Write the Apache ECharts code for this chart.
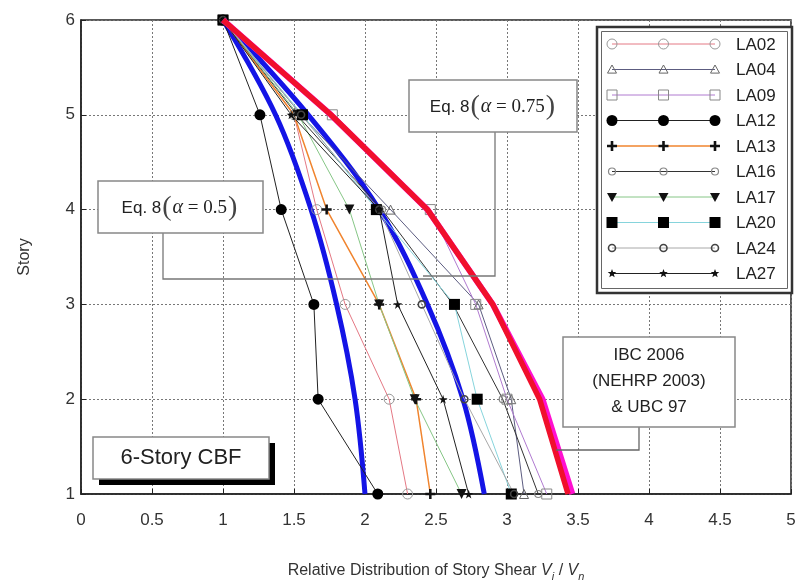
<!DOCTYPE html>
<html>
<head>
<meta charset="utf-8">
<script src="https://cdn.jsdelivr.net/npm/echarts@6/dist/echarts.min.js"></script>
<style>
  html, body { margin: 0; padding: 0; background: #fff; }
  #chart { width: 802px; height: 583px; }
</style>
</head>
<body>
<div id="chart"></div>
<script>
// Story levels, top to bottom
const stories = [6, 5, 4, 3, 2, 1];

// Relative story shear V_i / V_n for each record, per story (6 -> 1)
const LA02 = [1, 1.50, 1.66, 1.86, 2.17, 2.30];
const LA04 = [1, 1.55, 2.18, 2.80, 3.03, 3.12];
const LA09 = [1, 1.77, 2.46, 2.78, 3.00, 3.28];
const LA12 = [1, 1.26, 1.41, 1.64, 1.67, 2.09];
const LA13 = [1, 1.50, 1.73, 2.10, 2.36, 2.46];
const LA16 = [1, 1.52, 2.12, 2.62, 2.97, 3.22];
const LA17 = [1, 1.53, 1.89, 2.10, 2.35, 2.68];
const LA20 = [1, 1.56, 2.08, 2.63, 2.79, 3.03];
const LA24 = [1, 1.55, 2.10, 2.40, 2.70, 3.05];
const LA27 = [1, 1.48, 2.10, 2.23, 2.55, 2.73];

// Code-based distributions
const EQ8_A050 = [1, 1.37, 1.62, 1.80, 1.93, 2.00];
const EQ8_A075 = [1, 1.60, 2.10, 2.44, 2.69, 2.84];
const IBC2006 = [1, 1.76, 2.44, 2.90, 3.23, 3.43];
const UBC97 = [1, 1.76, 2.44, 2.90, 3.25, 3.46];

// Axis ticks
const xTicks = [0, 0.5, 1, 1.5, 2, 2.5, 3, 3.5, 4, 4.5, 5];
const yTicks = [1, 2, 3, 4, 5, 6];

const records = [
  { name: 'LA02', values: LA02 },
  { name: 'LA04', values: LA04 },
  { name: 'LA09', values: LA09 },
  { name: 'LA12', values: LA12 },
  { name: 'LA13', values: LA13 },
  { name: 'LA16', values: LA16 },
  { name: 'LA17', values: LA17 },
  { name: 'LA20', values: LA20 },
  { name: 'LA24', values: LA24 },
  { name: 'LA27', values: LA27 }
];

// Line and marker styling per record
const styles = {
  LA02: { line: '#e47884', lw: 1, shape: 'circle', size: 10, fill: 'rgba(255,255,255,0)', stroke: '#999', bw: 1 },
  LA04: { line: '#5c5c80', lw: 1, shape: 'tri', size: 9, fill: 'rgba(255,255,255,0)', stroke: '#666', bw: 1 },
  LA09: { line: '#b07ad0', lw: 1, shape: 'rect', size: 10, fill: 'rgba(255,255,255,0)', stroke: '#888', bw: 1 },
  LA12: { line: '#222', lw: 1, shape: 'circle', size: 11, fill: '#000', stroke: '#000', bw: 0 },
  LA13: { line: '#f0842e', lw: 1.5, shape: 'plus', size: 10, fill: '#111', stroke: '#111', bw: 0 },
  LA16: { line: '#333', lw: 1, shape: 'circle', size: 7, fill: 'rgba(255,255,255,0)', stroke: '#888', bw: 1.2 },
  LA17: { line: '#86c686', lw: 1, shape: 'triDown', size: 10, fill: '#111', stroke: '#111', bw: 0 },
  LA20: { line: '#86d4dc', lw: 1, shape: 'rect', size: 11, fill: '#000', stroke: '#000', bw: 0 },
  LA24: { line: '#a8a8a8', lw: 1, shape: 'circle', size: 7, fill: 'rgba(255,255,255,0)', stroke: '#444', bw: 1.6 },
  LA27: { line: '#222', lw: 1, shape: 'star', size: 9, fill: '#111', stroke: '#111', bw: 0 }
};

const PLUS_PATH = 'path://M3,0H5V3H8V5H5V8H3V5H0V3H3Z';
const STAR_PATH = 'path://M50,0L61,35L98,35L68,57L79,91L50,70L21,91L32,57L2,35L39,35Z';

function seriesSymbol(shape) {
  switch (shape) {
    case 'circle': return 'circle';
    case 'rect': return 'rect';
    case 'tri': return 'triangle';
    case 'triDown': return 'triangle';
    case 'plus': return PLUS_PATH;
    case 'star': return STAR_PATH;
  }
  return 'circle';
}

function pairs(values) {
  return values.map((v, i) => [v, stories[i]]);
}

const series = [];

// Thick design curves drawn beneath the record lines
series.push({
  name: 'Eq. 8 (alpha = 0.5)', type: 'line', data: pairs(EQ8_A050), smooth: 0.35,
  showSymbol: false, z: 1, lineStyle: { color: '#1414e6', width: 5 }, itemStyle: { color: '#1414e6' }
});
series.push({
  name: 'Eq. 8 (alpha = 0.75)', type: 'line', data: pairs(EQ8_A075), smooth: 0.35,
  showSymbol: false, z: 1, lineStyle: { color: '#1414e6', width: 5 }, itemStyle: { color: '#1414e6' }
});

records.forEach(r => {
  const st = styles[r.name];
  series.push({
    name: r.name, type: 'line', data: pairs(r.values), z: 2,
    symbol: seriesSymbol(st.shape), symbolSize: st.size,
    symbolRotate: st.shape === 'triDown' ? 180 : 0,
    showAllSymbol: true,
    lineStyle: { color: st.line, width: st.lw },
    itemStyle: { color: st.fill, borderColor: st.stroke, borderWidth: st.bw }
  });
});

series.push({
  name: 'UBC 97', type: 'line', data: pairs(UBC97), showSymbol: false, z: 3,
  lineStyle: { color: '#ff10d0', width: 6 }, itemStyle: { color: '#ff10d0' }
});
series.push({
  name: 'IBC 2006', type: 'line', data: pairs(IBC2006), showSymbol: false, z: 4,
  lineStyle: { color: '#f0102c', width: 5.5 }, itemStyle: { color: '#f0102c' }
});

series.forEach(s => { s.emphasis = { disabled: true }; s.silent = true; });

// Legend marker drawn as graphic shapes
function markerEl(st, cx, cy) {
  const s = st.size, h = s / 2;
  const style = { fill: st.fill, stroke: st.bw ? st.stroke : null, lineWidth: st.bw };
  switch (st.shape) {
    case 'circle': return { type: 'circle', shape: { cx, cy, r: h }, style };
    case 'rect': return { type: 'rect', shape: { x: cx - h, y: cy - h, width: s, height: s }, style };
    case 'tri': return { type: 'polygon', shape: { points: [[cx, cy - h], [cx + h, cy + h * 0.8], [cx - h, cy + h * 0.8]] }, style };
    case 'triDown': return { type: 'polygon', shape: { points: [[cx - h, cy - h * 0.8], [cx + h, cy - h * 0.8], [cx, cy + h]] }, style };
    case 'plus': {
      const a = h, b = s * 0.13;
      return { type: 'polygon', shape: { points: [
        [cx - b, cy - a], [cx + b, cy - a], [cx + b, cy - b], [cx + a, cy - b], [cx + a, cy + b], [cx + b, cy + b],
        [cx + b, cy + a], [cx - b, cy + a], [cx - b, cy + b], [cx - a, cy + b], [cx - a, cy - b], [cx - b, cy - b]] }, style };
    }
    case 'star': {
      const pts = [];
      for (let k = 0; k < 10; k++) {
        const ang = -Math.PI / 2 + k * Math.PI / 5;
        const rr = k % 2 === 0 ? h : h * 0.42;
        pts.push([cx + rr * Math.cos(ang), cy + rr * Math.sin(ang)]);
      }
      return { type: 'polygon', shape: { points: pts }, style };
    }
  }
}

const FONT = '"Liberation Sans", Arial, Helvetica, sans-serif';
const SERIF = '"Liberation Serif", "DejaVu Serif", serif';

const graphics = [];

// Legend box (double frame)
graphics.push({ type: 'rect', z: 10, shape: { x: 597, y: 27, width: 195, height: 266 },
  style: { fill: '#fff', stroke: '#333', lineWidth: 2.5 } });
graphics.push({ type: 'rect', z: 10, shape: { x: 601.5, y: 31.5, width: 186, height: 257 },
  style: { fill: 'none', stroke: '#666', lineWidth: 1 } });

records.forEach((r, i) => {
  const st = styles[r.name];
  const y = 44 + i * 25.5;
  graphics.push({ type: 'line', z: 11, shape: { x1: 612, y1: y, x2: 715, y2: y },
    style: { stroke: st.line, lineWidth: st.lw } });
  [612, 663.5, 715].forEach(cx => {
    const m = markerEl(st, cx, y);
    m.z = 12;
    graphics.push(m);
  });
  graphics.push({ type: 'text', z: 12, x: 736, y: y + 1,
    style: { text: r.name, font: '17px ' + FONT, fill: '#222', textVerticalAlign: 'middle' } });
});

// Annotation boxes and their leader lines
const eqRich = {
  t: { fontFamily: FONT, fontSize: 17, fill: '#222' },
  p: { fontFamily: SERIF, fontSize: 28, fill: '#444', padding: [0, 1, 0, 1] },
  a: { fontFamily: SERIF, fontSize: 20, fontStyle: 'italic', fill: '#222' },
  e: { fontFamily: SERIF, fontSize: 19, fill: '#222' }
};

// alpha = 0.5
graphics.push({ type: 'polyline', z: 8, shape: { points: [[163, 233], [163, 279], [432, 279]] },
  style: { fill: 'none', stroke: '#777', lineWidth: 1.3 } });
graphics.push({ type: 'rect', z: 9, shape: { x: 98, y: 181, width: 165, height: 52 },
  style: { fill: '#fff', stroke: '#888', lineWidth: 1.5 } });
graphics.push({ type: 'text', z: 9, x: 180, y: 208,
  style: { text: '{t|Eq. 8}{p|(}{a|α}{e| = 0.5}{p|)}', rich: eqRich, textAlign: 'center', textVerticalAlign: 'middle' } });

// alpha = 0.75
graphics.push({ type: 'polyline', z: 8, shape: { points: [[495, 132], [495, 276], [423, 276]] },
  style: { fill: 'none', stroke: '#777', lineWidth: 1.3 } });
graphics.push({ type: 'rect', z: 9, shape: { x: 409, y: 80, width: 168, height: 52 },
  style: { fill: '#fff', stroke: '#888', lineWidth: 1.5 } });
graphics.push({ type: 'text', z: 9, x: 493, y: 107,
  style: { text: '{t|Eq. 8}{p|(}{a|α}{e| = 0.75}{p|)}', rich: eqRich, textAlign: 'center', textVerticalAlign: 'middle' } });

// IBC / UBC
graphics.push({ type: 'polyline', z: 8, shape: { points: [[639, 427], [639, 450], [556, 450]] },
  style: { fill: 'none', stroke: '#666', lineWidth: 1.3 } });
graphics.push({ type: 'rect', z: 9, shape: { x: 563, y: 337, width: 172, height: 90 },
  style: { fill: '#fff', stroke: '#888', lineWidth: 1.5 } });
['IBC 2006', '(NEHRP 2003)', '& UBC 97'].forEach((t, i) => {
  graphics.push({ type: 'text', z: 9, x: 649, y: 355 + i * 26,
    style: { text: t, font: '17px ' + FONT, fill: '#222', textAlign: 'center', textVerticalAlign: 'middle' } });
});

// Frame title with drop shadow
graphics.push({ type: 'rect', z: 8, shape: { x: 99, y: 443, width: 176, height: 42 },
  style: { fill: '#000' } });
graphics.push({ type: 'rect', z: 9, shape: { x: 93, y: 437, width: 176, height: 42 },
  style: { fill: '#fff', stroke: '#888', lineWidth: 1.5 } });
graphics.push({ type: 'text', z: 9, x: 181, y: 458,
  style: { text: '6-Story CBF', font: '22px ' + FONT, fill: '#222', textAlign: 'center', textVerticalAlign: 'middle' } });

const chart = echarts.init(document.getElementById('chart'), null, { renderer: 'canvas' });

chart.setOption({
  animation: false,
  backgroundColor: '#fff',
  grid: { left: 81, right: 11, top: 20, bottom: 89, containLabel: false, outerBoundsMode: 'none',
    show: true, borderColor: '#222', borderWidth: 1.5, backgroundColor: 'transparent' },
  xAxis: {
    type: 'value', min: xTicks[0], max: xTicks[xTicks.length - 1], interval: xTicks[1] - xTicks[0],
    axisLine: { show: true, lineStyle: { color: '#222', width: 1.5 } },
    axisTick: { show: true, inside: true, length: 5, lineStyle: { color: '#222' } },
    axisLabel: { color: '#333', fontFamily: FONT, fontSize: 17, margin: 18 },
    splitLine: { show: true, lineStyle: { color: '#777', type: [2, 2], width: 1 } },
    name: '{n|Relative Distribution of Story Shear }{i|V}{s|i}{n| / }{i|V}{s|n}',
    nameLocation: 'middle', nameGap: 66,
    nameTextStyle: {
      rich: {
        n: { fontFamily: FONT, fontSize: 16, color: '#333', lineHeight: 22, verticalAlign: 'middle' },
        i: { fontFamily: FONT, fontSize: 16, fontStyle: 'italic', color: '#333', lineHeight: 22, verticalAlign: 'middle' },
        s: { fontFamily: FONT, fontSize: 11, fontStyle: 'italic', color: '#333', lineHeight: 16, verticalAlign: 'bottom', padding: [6, 0, 0, 0] }
      }
    }
  },
  yAxis: {
    type: 'value', min: yTicks[0], max: yTicks[yTicks.length - 1], interval: 1,
    axisLine: { show: true, lineStyle: { color: '#222', width: 1.5 } },
    axisTick: { show: true, inside: true, length: 5, lineStyle: { color: '#222' } },
    axisLabel: { color: '#333', fontFamily: FONT, fontSize: 17, margin: 6 },
    splitLine: { show: true, lineStyle: { color: '#777', type: [2, 2], width: 1 } },
    name: 'Story', nameLocation: 'middle', nameGap: 48,
    nameTextStyle: { fontFamily: FONT, fontSize: 16, color: '#333' }
  },
  series: series,
  graphic: graphics
});
</script>
</body>
</html>
